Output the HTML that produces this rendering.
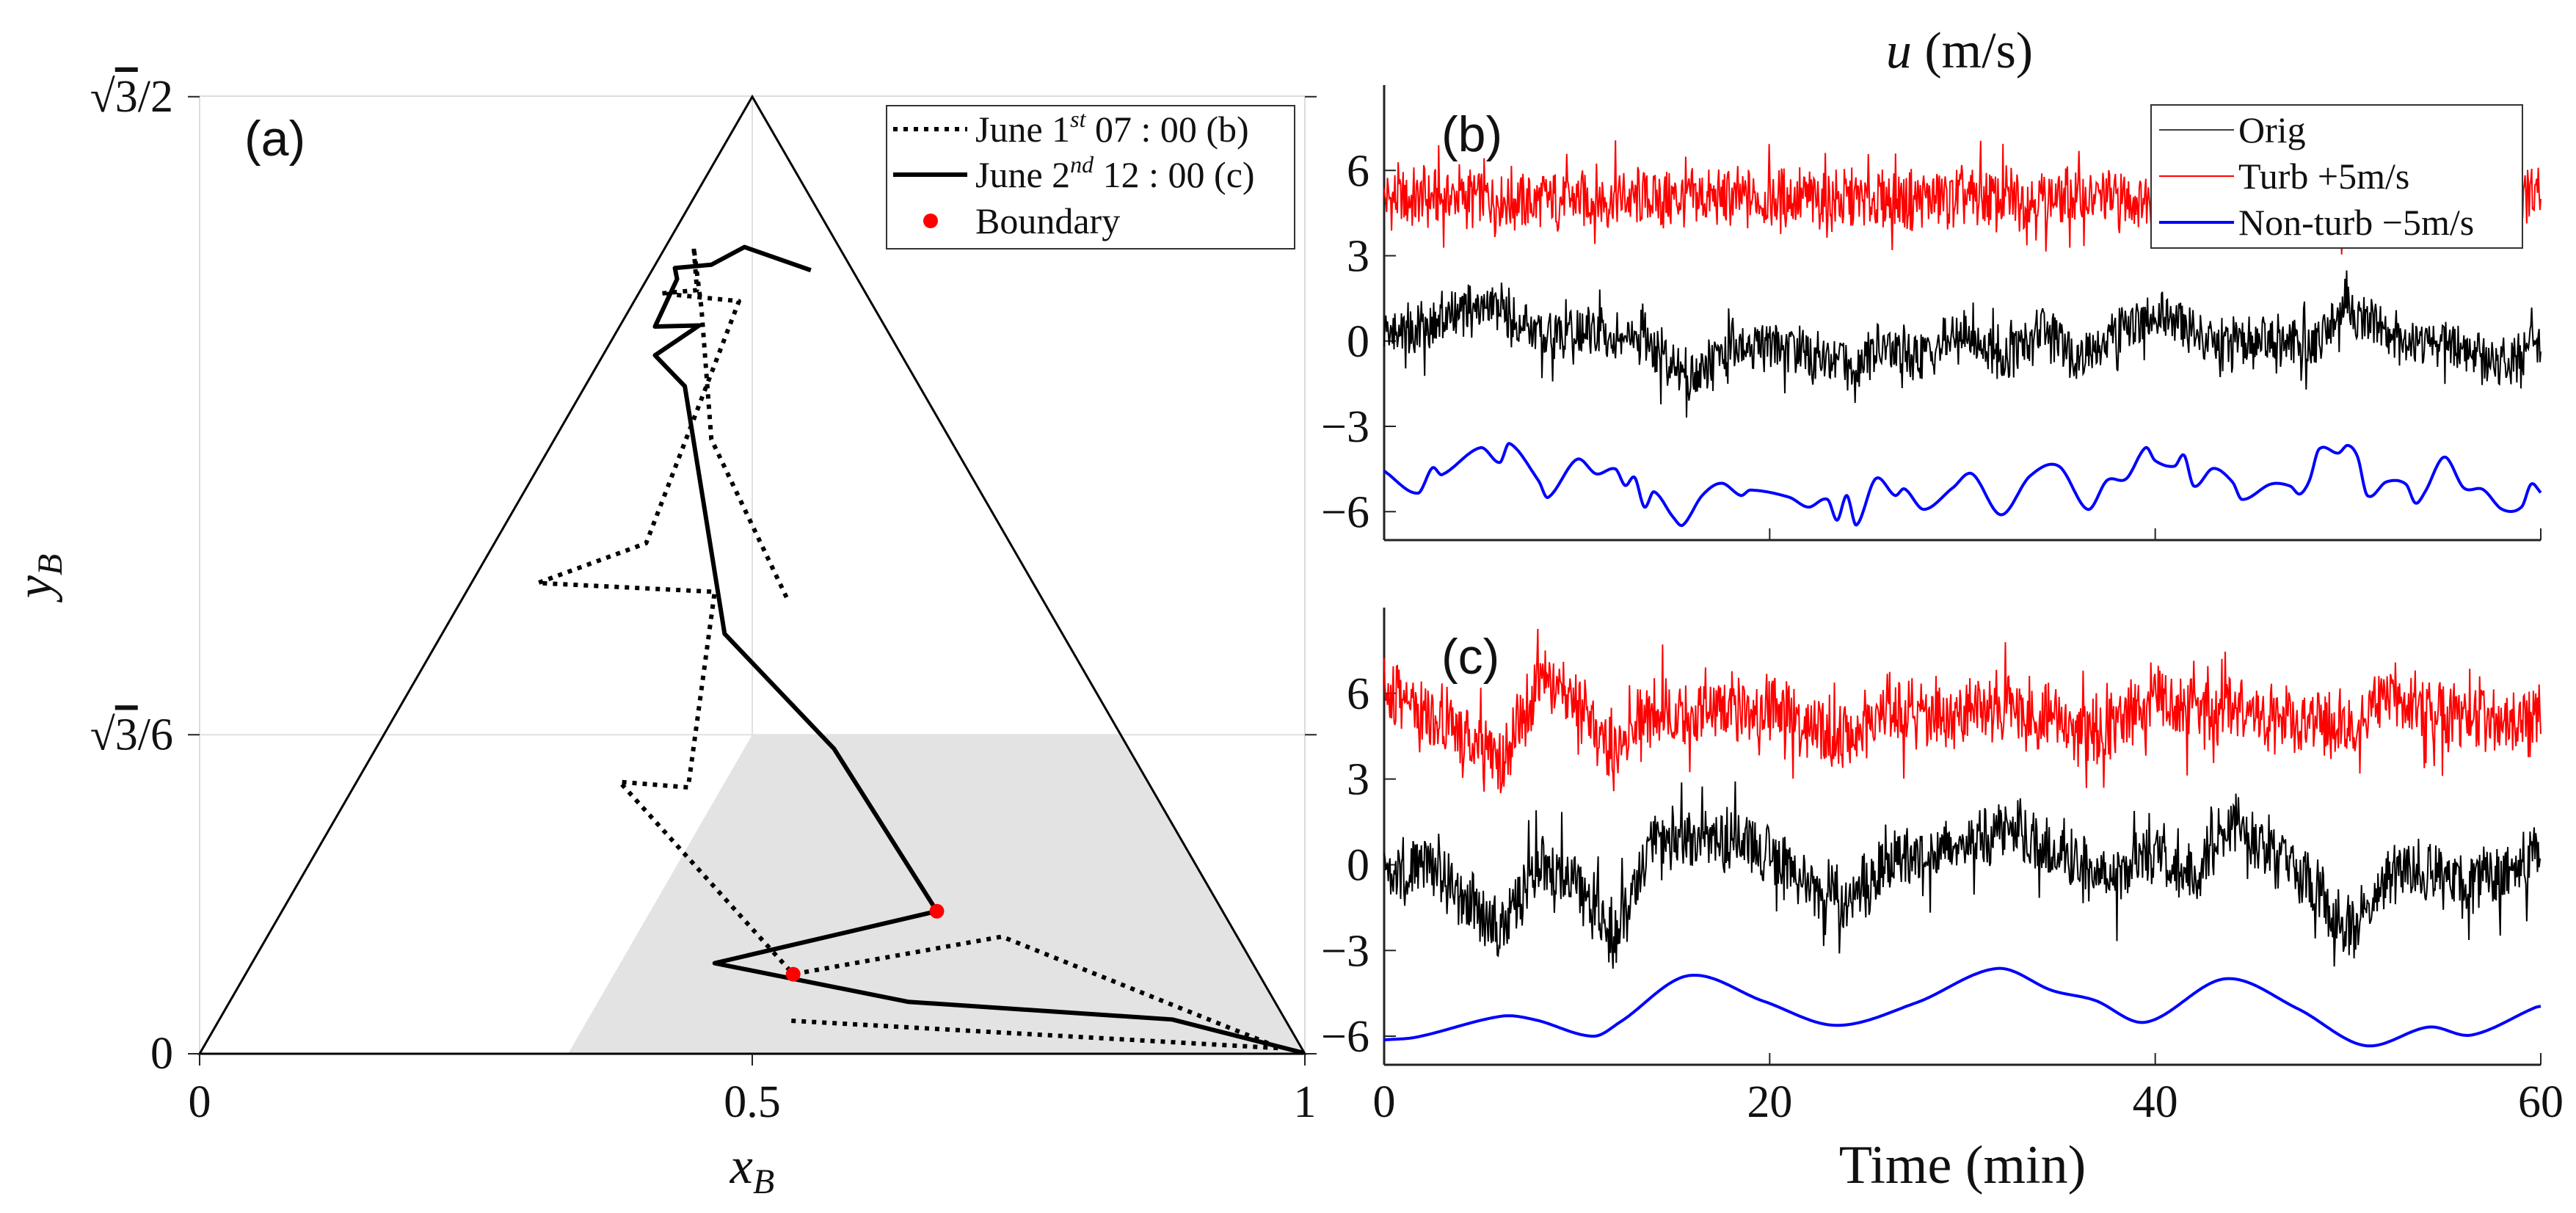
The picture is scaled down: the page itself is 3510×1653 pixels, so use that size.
<!DOCTYPE html>
<html><head><meta charset="utf-8"><style>
html,body{margin:0;padding:0;background:#fff;}
svg{display:block;}
text{font-family:"Liberation Serif",serif;fill:#111;}
.sans{font-family:"Liberation Sans",sans-serif;}
</style></head><body>
<svg id="fig" width="3510" height="1653" viewBox="0 0 3510 1653" xmlns="http://www.w3.org/2000/svg">
<g id="pa"></g>
<g id="pb"></g>
<g id="pc"></g>
</svg>
<script>
// ---------- Panel (a) data ----------
const trajBx = [0.531,0.463,0.454,0.447,0.450,0.418,0.488,0.404,0.306,0.466,0.442,0.380,0.537,0.726,0.978,0.533];
const trajBy = [0.413,0.556,0.675,0.730,0.691,0.688,0.681,0.462,0.426,0.418,0.241,0.246,0.072,0.106,0.005,0.030];
const trajCx = [0.553,0.493,0.463,0.430,0.432,0.412,0.452,0.412,0.439,0.475,0.574,0.667,0.466,0.641,0.880,0.998];
const trajCy = [0.709,0.730,0.714,0.711,0.701,0.658,0.659,0.632,0.604,0.380,0.276,0.129,0.082,0.047,0.031,0.001];
const boundaryX = [0.667,0.537];
const boundaryY = [0.129,0.072];
const xTicksA = [0,0.5,1];
const xTickLabelsA = ["0","0.5","1"];
// ---------- Panel (b)/(c) data ----------
const timeKnots = [0,2,4,6,8,10,12,14,16,18,20,22,24,26,28,30,32,34,36,38,40,42,44,46,48,50,52,54,56,58,60];
const origB = [0.3,0.5,1.0,1.2,0.2,0.3,0.2,-0.3,-1.3,-0.3,-0.2,-0.5,-0.8,-0.3,-0.5,0.3,-0.6,0.5,-0.5,0.3,1.0,0.3,-0.2,0.0,-0.2,1.2,0.2,0.0,-0.3,-0.8,-0.2];
const turbB = [5,5,5.1,5,4.9,5,5,5,5,5,5,5,4.9,5,5,5,5,5,5,5,5,5,5,5,5,5,5,5,5,5,5];
const origC = [-0.5,0,-1.0,-2.5,0,-0.5,-2.5,0.8,1.0,0.8,0.5,-0.5,-1.5,0.2,0.2,0.8,1.2,0.8,0,-0.5,0.3,-0.3,1.5,0.3,-0.5,-2.3,-0.5,0.0,-0.8,-0.3,0.5];
const turbC = [6,5.5,4.7,3.5,6.5,5.5,3.8,5.5,5,5.5,5.5,5,4.5,5.5,5.2,5.2,5.5,5.3,4.5,4.7,6,5.2,5.5,5,5,4.8,5.8,5.5,5.2,4.8,5.2];
const blueBt = [0,1.75,2.5,3,5,6,6.5,8,8.5,10,11,12,12.5,13,13.5,14,15,15.5,16.5,17.5,18.5,19,21,22,23,23.5,24,24.5,25.5,26.5,27,28,29.5,30.5,32,33.5,35,36.5,37.5,38.5,39.5,40,41,41.5,42,43,44,44.5,46,47,47.5,48,48.5,49.5,50,50.5,51,52,53,53.5,54,55,56,57,58,59,59.5,60];
const blueBv = [-4.57,-5.35,-4.46,-4.7,-3.75,-4.27,-3.6,-4.9,-5.5,-4.16,-4.67,-4.5,-5.08,-4.8,-5.84,-5.3,-6.2,-6.47,-5.43,-5.0,-5.43,-5.24,-5.49,-5.84,-5.57,-6.3,-5.43,-6.47,-4.84,-5.43,-5.2,-5.92,-5.16,-4.67,-6.11,-4.75,-4.4,-5.92,-4.9,-4.84,-3.75,-4.21,-4.4,-4.02,-5.1,-4.48,-4.95,-5.57,-5.03,-5.1,-5.38,-4.9,-3.8,-3.94,-3.67,-4.08,-5.43,-4.95,-5.03,-5.7,-5.3,-4.08,-5.16,-5.22,-5.92,-5.84,-5.03,-5.33];
const blueCt = [0,1.7,6.1,7.85,10.85,12.25,15.8,19.7,23.45,27.6,31.8,34.65,36.85,39.5,43.65,47.4,50.9,54.2,56.4,59.7,60];
const blueCv = [-6.13,-6.03,-5.3,-5.43,-6.0,-5.5,-3.88,-4.78,-5.62,-4.83,-3.63,-4.4,-4.74,-5.51,-3.99,-5.04,-6.33,-5.68,-5.96,-5.0,-4.95];
const yTicks = [-6,-3,0,3,6];
const xTicksT = [0,20,40,60];

const NS="http://www.w3.org/2000/svg";
function mk(parent,tag,attrs,txt){const e=document.createElementNS(NS,tag);for(const k in attrs)e.setAttribute(k,attrs[k]);if(txt!==undefined)e.textContent=txt;parent.appendChild(e);return e;}

// ----- Panel (a) -----
const pa=document.getElementById('pa');
const ax0=272, ay0=1436, asc=1506;
const AX=x=>ax0+x*asc, AY=y=>ay0-y*asc;
const h3=Math.sqrt(3)/2, h6=Math.sqrt(3)/6;
let e;
e=mk(pa,'rect',{x:272,y:131,width:1506,height:1305,fill:'none',stroke:'#dcdcdc','stroke-width':2});


e=mk(pa,'line',{x1:AX(0.5),y1:131,x2:AX(0.5),y2:ay0,stroke:'#e0e0e0','stroke-width':2});


e=mk(pa,'line',{x1:272,y1:AY(h6),x2:1778,y2:AY(h6),stroke:'#e0e0e0','stroke-width':2});


e=mk(pa,'polygon',{points:[[AX(1/3),AY(0)],[AX(0.5),AY(h6)],[AX(5/6),AY(h6)],[AX(1),AY(0)]].map(p=>p.join(',')).join(' '),fill:'#e3e3e3'});


e=mk(pa,'polygon',{points:[[AX(0),AY(0)],[AX(0.5),AY(h3)],[AX(1),AY(0)]].map(p=>p.join(',')).join(' '),fill:'none',stroke:'#000','stroke-width':3});


[[0,'0'],[h6,'√3/6'],[h3,'√3/2']].forEach(([v,l])=>{
  let t=mk(pa,'line',{x1:256,y1:AY(v),x2:272,y2:AY(v),stroke:'#222','stroke-width':2});
  
  
  t=mk(pa,'line',{x1:1778,y1:AY(v),x2:1794,y2:AY(v),stroke:'#222','stroke-width':2});
  
  
  let tx=mk(pa,'text',{x:236,y:AY(v)+20,'text-anchor':'end','font-size':62},'');
  
  
  if(l==='0'){tx.textContent='0';}
  else{const parts=l.split('/');
    mk(tx,'tspan',{},'√');
    mk(tx,'tspan',{'text-decoration':'overline'},'3');
    mk(tx,'tspan',{},'/'+parts[1]);}
});
xTicksA.forEach((v,i)=>{
  let t=mk(pa,'line',{x1:AX(v),y1:ay0,x2:AX(v),y2:ay0+16,stroke:'#222','stroke-width':2});
  
  
  t=mk(pa,'text',{x:AX(v),y:1522,'text-anchor':'middle','font-size':62},xTickLabelsA[i]);
  
  
});
e=mk(pa,'text',{x:1025,y:1612,'text-anchor':'middle','font-size':70,'font-style':'italic'},'');


mk(e,'tspan',{},'x');mk(e,'tspan',{'font-size':48,dy:14},'B');
e=mk(pa,'text',{x:0,y:0,'text-anchor':'middle','font-size':70,'font-style':'italic',transform:'translate(70,785) rotate(-90)'},'');


mk(e,'tspan',{},'y');mk(e,'tspan',{'font-size':48,dy:14},'B');
e=mk(pa,'polyline',{points:trajBx.map((x,i)=>AX(x)+','+AY(trajBy[i])).join(' '),fill:'none',stroke:'#000','stroke-width':6,'stroke-dasharray':'6 8','stroke-linejoin':'round'});


e=mk(pa,'polyline',{points:trajCx.map((x,i)=>AX(x)+','+AY(trajCy[i])).join(' '),fill:'none',stroke:'#000','stroke-width':6,'stroke-linejoin':'round'});


boundaryX.forEach((x,i)=>{
  const c=mk(pa,'circle',{cx:AX(x),cy:AY(boundaryY[i]),r:10,fill:'#ff0000'});
  
  
});
e=mk(pa,'text',{x:333,y:212,'font-size':68,class:'sans'},'(a)');


const la=mk(pa,'g',{});


mk(la,'rect',{x:1208,y:144,width:556,height:195,fill:'#fff',stroke:'#333','stroke-width':2});
e=mk(la,'line',{x1:1217,y1:176,x2:1318,y2:176,stroke:'#000','stroke-width':6,'stroke-dasharray':'6 8'});


e=mk(la,'text',{x:1329,y:193,'font-size':50},'');
mk(e,'tspan',{},'June 1');mk(e,'tspan',{'font-size':32,dy:-20,'font-style':'italic'},'st');mk(e,'tspan',{dy:20},' 07 : 00 (b)');
e=mk(la,'line',{x1:1217,y1:238,x2:1318,y2:238,stroke:'#000','stroke-width':6});


e=mk(la,'text',{x:1329,y:255,'font-size':50},'');
mk(e,'tspan',{},'June 2');mk(e,'tspan',{'font-size':32,dy:-20,'font-style':'italic'},'nd');mk(e,'tspan',{dy:20},' 12 : 00 (c)');
e=mk(la,'circle',{cx:1268,cy:301,r:10,fill:'#ff0000'});


mk(la,'text',{x:1329,y:318,'font-size':50},'Boundary');

// ----- Time series panels -----
const tx0=1886, tx1=3462;
const TX=t=>tx0+(t-0)/60*(tx1-tx0);
function texture(k){const s=Math.sin(k*12.9898+78.233)*43758.5453;return (s-Math.floor(s))*2-1;}
function interp(ts,vs,t){for(let i=0;i<ts.length-1;i++){if(t<=ts[i+1]){const f=(t-ts[i])/(ts[i+1]-ts[i]);return vs[i]+f*(vs[i+1]-vs[i]);}}return vs[vs.length-1];}
function smooth(ts,vs,t){
  const n=ts.length;
  const m=i=>{const a=Math.max(0,i-1),b=Math.min(n-1,i+1);return (vs[b]-vs[a])/(ts[b]-ts[a]);};
  for(let i=0;i<n-1;i++){if(t<=ts[i+1]){const h=ts[i+1]-ts[i];const s=(t-ts[i])/h;
    const h00=2*s*s*s-3*s*s+1,h10=s*s*s-2*s*s+s,h01=-2*s*s*s+3*s*s,h11=s*s*s-s*s;
    return h00*vs[i]+h10*h*m(i)+h01*vs[i+1]+h11*h*m(i+1);}}
  return vs[n-1];
}
function panel(g,top,bot,label,orig,turb,amps,blueT,blueV,showX,seed){
  const TY=v=>bot-(v+7)/16*(bot-top);
  let a=mk(g,'line',{x1:tx0,y1:top,x2:tx0,y2:bot,stroke:'#222','stroke-width':3});
  
  
  a=mk(g,'line',{x1:tx0,y1:bot,x2:tx1,y2:bot,stroke:'#222','stroke-width':3});
  
  
  yTicks.forEach(v=>{
    let t=mk(g,'line',{x1:tx0,y1:TY(v),x2:tx0+16,y2:TY(v),stroke:'#222','stroke-width':2});
    
    
    t=mk(g,'text',{x:1866,y:TY(v)+21,'text-anchor':'end','font-size':62},v<0?'−'+Math.abs(v):String(v));
    
    
  });
  xTicksT.forEach(v=>{
    let t=mk(g,'line',{x1:TX(v),y1:bot,x2:TX(v),y2:bot-16,stroke:'#222','stroke-width':2});
    
    
    if(showX){t=mk(g,'text',{x:TX(v),y:1522,'text-anchor':'middle','font-size':62},String(v));
      
      }
  });
  const N=1400;
  function noisy(vals,amp,off){const pts=[];for(let k=0;k<=N;k++){const t=k/N*60;const r=texture(k+off);const v=interp(timeKnots,vals,t)+amp*r*(0.55+0.45*Math.abs(texture(k*3+off+7)))*(Math.abs(r)>0.97?1.6:1);pts.push(TX(t).toFixed(1)+','+TY(v).toFixed(1));}return pts.join(' ');}
  let s=mk(g,'polyline',{points:noisy(turb,amps[0],seed),fill:'none',stroke:'#ff0000','stroke-width':2});
  
  
  s=mk(g,'polyline',{points:noisy(orig,amps[1],seed+5000),fill:'none',stroke:'#000','stroke-width':2});
  
  
  const bp=[];for(let k=0;k<=1200;k++){const t=k/20;bp.push(TX(t).toFixed(1)+','+TY(smooth(blueT,blueV,t)).toFixed(1));}
  s=mk(g,'polyline',{points:bp.join(' '),fill:'none',stroke:'#0000ff','stroke-width':4,'stroke-linejoin':'round'});
  
  
  s=mk(g,'text',{x:1964,y:top+90,'font-size':68,class:'sans'},label);
  
  
}
panel(document.getElementById('pb'),116,736,'(b)',origB,turbB,[1.3,1.1],blueBt,blueBv,false,1);
panel(document.getElementById('pc'),828,1451,'(c)',origC,turbC,[1.5,1.4],blueCt,blueCv,true,9000);
const fig=document.getElementById('fig');
e=mk(fig,'text',{x:2670,y:92,'text-anchor':'middle','font-size':70},'');


mk(e,'tspan',{'font-style':'italic'},'u');mk(e,'tspan',{},' (m/s)');
e=mk(fig,'text',{x:2674,y:1612,'text-anchor':'middle','font-size':74},'Time (min)');


const lb=mk(fig,'g',{});


mk(lb,'rect',{x:2931,y:143,width:506,height:195,fill:'#fff',stroke:'#333','stroke-width':2});
[['Orig','#000',1.5,177,'legend-entry-orig'],['Turb +5m/s','#ff0000',2,240,'legend-entry-turb'],['Non-turb −5m/s','#0000ff',4,303,'legend-entry-non-turb']].forEach(r=>{
  const l=mk(lb,'line',{x1:2942,y1:r[3],x2:3044,y2:r[3],stroke:r[1],'stroke-width':r[2]});
  
  
  mk(lb,'text',{x:3050,y:r[3]+17,'font-size':50},r[0]);
});
</script>
</body></html>
